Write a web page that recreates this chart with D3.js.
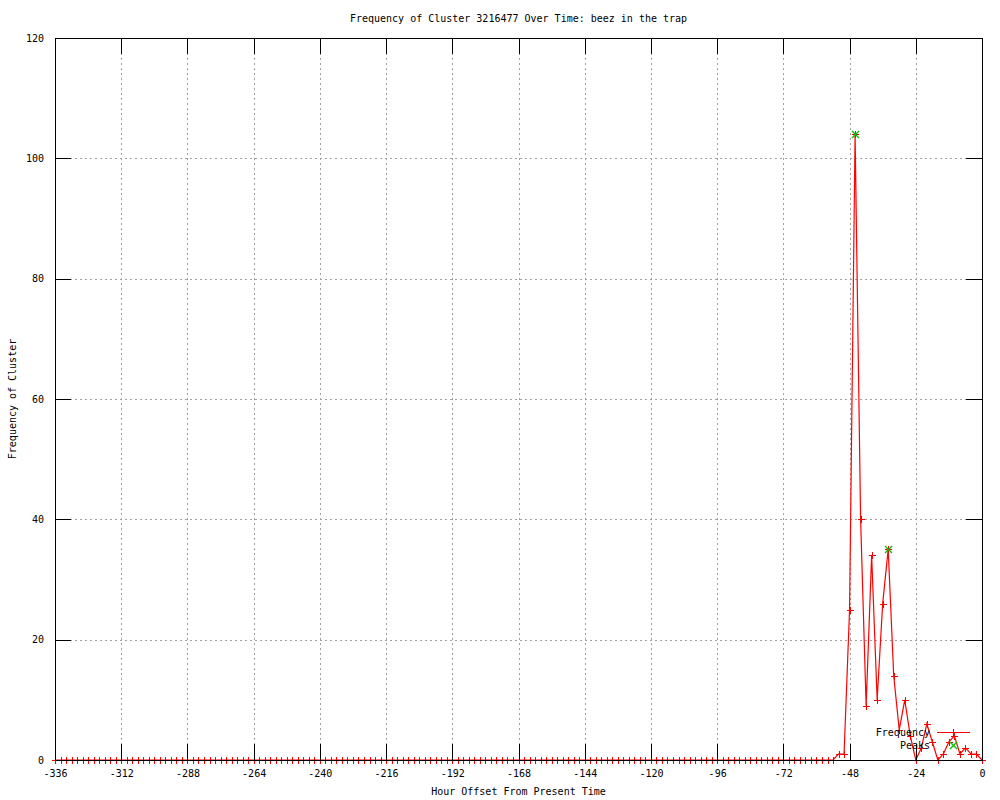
<!DOCTYPE html>
<html>
<head>
<meta charset="utf-8">
<script src="https://cdn.jsdelivr.net/npm/d3@7/dist/d3.min.js"></script>
<style>
	body { margin: 0; background: #ffffff; }
	text { font-family: 'DejaVu Sans Mono', monospace; font-size: 10px; fill: #000000; }
</style>
</head>
<body>
<div class="vis"></div>
<script>
'use strict';

// hour offsets, one sample every two hours
var hours = d3.range( -336, 1, 2 );

// frequency per sample (-336 ... 0)
var frequency = [
	0, 0, 0, 0, 0, 0, 0, 0, 0, 0, 0, 0, 0, 0, 0, 0, 0, 0, 0, 0,
	0, 0, 0, 0, 0, 0, 0, 0, 0, 0, 0, 0, 0, 0, 0, 0, 0, 0, 0, 0,
	0, 0, 0, 0, 0, 0, 0, 0, 0, 0, 0, 0, 0, 0, 0, 0, 0, 0, 0, 0,
	0, 0, 0, 0, 0, 0, 0, 0, 0, 0, 0, 0, 0, 0, 0, 0, 0, 0, 0, 0,
	0, 0, 0, 0, 0, 0, 0, 0, 0, 0, 0, 0, 0, 0, 0, 0, 0, 0, 0, 0,
	0, 0, 0, 0, 0, 0, 0, 0, 0, 0, 0, 0, 0, 0, 0, 0, 0, 0, 0, 0,
	0, 0, 0, 0, 0, 0, 0, 0, 0, 0, 0, 0, 0, 0, 0, 0, 0, 0, 0, 0,
	0, 0,
	1, 1, 25, 104, 40, 9, 34, 10, 26, 35, 14, 5, 10, 4, 0, 2, 6, 3, 0, 1, 3, 4, 1, 2, 1, 1, 0
];

// detected peaks
var peakHours = [ -46, -34 ];
var peakValues = [ 104, 35 ];

var xTicks = d3.range( -336, 1, 24 );
var yTicks = [ 0, 20, 40, 60, 80, 100, 120 ];

var titleText = 'Frequency of Cluster 3216477 Over Time: beez in the trap';
var xLabel = 'Hour Offset From Present Time';
var yLabel = 'Frequency of Cluster';
var seriesNames = [ 'Frequency', 'Peaks' ];

(function () {

	var width = 1000;
	var height = 800;

	var left = 55, right = 982, top = 38, bottom = 760;
	var tickLen = 16;

	var lineColor = '#ff0000';
	var peakColor = '#00c000';
	var gridColor = '#a0a0a0';

	var x = d3.scaleLinear().domain( [-336, 0] ).range( [left, right] );
	var y = d3.scaleLinear().domain( [0, 120] ).range( [bottom, top] );

	var data = hours.map( function(h, i) { return { h: h, v: frequency[i] }; } );
	var peaks = peakHours.map( function(h, i) { return { h: h, v: peakValues[i] }; } );

	var svg = d3.select('.vis')
		.append('svg')
			.attr('width', width)
			.attr('height', height);

	// grid
	var grid = svg.append('g')
		.attr('stroke', gridColor)
		.attr('stroke-dasharray', '2,3')
		.attr('shape-rendering', 'crispEdges');

	grid.selectAll('.gx')
		.data( xTicks.slice( 1, -1 ) )
		.enter().append('line')
			.attr('x1', function(d) { return Math.round( x(d) ) + 0.5; })
			.attr('x2', function(d) { return Math.round( x(d) ) + 0.5; })
			.attr('y1', top)
			.attr('y2', bottom);

	grid.selectAll('.gy')
		.data( yTicks.slice( 1, -1 ) )
		.enter().append('line')
			.attr('y1', function(d) { return Math.round( y(d) ) + 0.5; })
			.attr('y2', function(d) { return Math.round( y(d) ) + 0.5; })
			.attr('x1', left)
			.attr('x2', right);

	// frequency line
	var line = d3.line()
		.x( function(d) { return x(d.h); } )
		.y( function(d) { return y(d.v); } );

	svg.append('path')
		.datum( data )
		.attr('fill', 'none')
		.attr('stroke', lineColor)
		.attr('stroke-width', 1.2)
		.attr('d', line);

	// point marks
	function plus( sel, cx, cy, color ) {
		sel.append('path')
			.attr('d', 'M' + (cx - 3.5) + ',' + cy + 'H' + (cx + 3.5) + 'M' + cx + ',' + (cy - 3.5) + 'V' + (cy + 3.5))
			.attr('stroke', color)
			.attr('shape-rendering', 'crispEdges')
			.attr('fill', 'none');
	}

	function cross( sel, cx, cy, color ) {
		sel.append('path')
			.attr('d', 'M' + (cx - 3.5) + ',' + (cy - 3.5) + 'L' + (cx + 3.5) + ',' + (cy + 3.5) +
				'M' + (cx - 3.5) + ',' + (cy + 3.5) + 'L' + (cx + 3.5) + ',' + (cy - 3.5))
			.attr('stroke', color)
			.attr('stroke-width', 1.3)
			.attr('fill', 'none');
	}

	var marks = svg.append('g');
	data.forEach( function(d) {
		plus( marks, Math.round( x(d.h) ) + 0.5, Math.round( y(d.v) ) + 0.5, lineColor );
	});

	peaks.forEach( function(d) {
		cross( marks, Math.round( x(d.h) ) + 0.5, Math.round( y(d.v) ) + 0.5, peakColor );
	});

	// axes with inward ticks
	var axisG = svg.append('g').attr('shape-rendering', 'crispEdges');

	axisG.append('g')
		.attr('transform', 'translate(0,' + bottom + ')')
		.call( d3.axisBottom( x ).tickValues( xTicks ).tickSizeInner( -tickLen ).tickSizeOuter( 0 ).tickPadding( 10 )
			.tickFormat( function(d) { return d.toString(); } ) );

	axisG.append('g')
		.attr('transform', 'translate(0,' + top + ')')
		.call( d3.axisTop( x ).tickValues( xTicks ).tickSizeInner( -tickLen ).tickSizeOuter( 0 ).tickFormat( '' ) );

	axisG.append('g')
		.attr('transform', 'translate(' + left + ',0)')
		.call( d3.axisLeft( y ).tickValues( yTicks ).tickSizeInner( -tickLen ).tickSizeOuter( 0 ).tickPadding( 11 )
			.tickFormat( function(d) { return d.toString(); } ) );

	axisG.append('g')
		.attr('transform', 'translate(' + right + ',0)')
		.call( d3.axisRight( y ).tickValues( yTicks ).tickSizeInner( -tickLen ).tickSizeOuter( 0 ).tickFormat( '' ) );

	axisG.selectAll('.domain').remove();
	axisG.selectAll('.tick line').attr('stroke', '#000000');
	axisG.selectAll('text')
		.attr('font-family', null)
		.attr('font-size', null)
		.attr('fill', '#000000');

	// border
	svg.append('rect')
		.attr('x', left + 0.5)
		.attr('y', top + 0.5)
		.attr('width', right - left)
		.attr('height', bottom - top)
		.attr('fill', 'none')
		.attr('stroke', '#000000')
		.attr('shape-rendering', 'crispEdges');

	// legend
	var legend = svg.append('g');
	legend.append('text')
		.attr('x', 930)
		.attr('y', 733)
		.attr('text-anchor', 'end')
		.attr('dominant-baseline', 'middle')
		.text( seriesNames[0] );
	legend.append('line')
		.attr('x1', 937).attr('x2', 970)
		.attr('y1', 732.5).attr('y2', 732.5)
		.attr('stroke', lineColor)
		.attr('shape-rendering', 'crispEdges');
	plus( legend, 953.5, 732.5, lineColor );

	legend.append('text')
		.attr('x', 930)
		.attr('y', 746)
		.attr('text-anchor', 'end')
		.attr('dominant-baseline', 'middle')
		.text( seriesNames[1] );
	cross( legend, 953.5, 745.5, peakColor );

	// titles
	svg.append('text')
		.attr('x', (left + right) / 2)
		.attr('y', 19)
		.attr('text-anchor', 'middle')
		.attr('dominant-baseline', 'middle')
		.text( titleText );

	svg.append('text')
		.attr('x', (left + right) / 2)
		.attr('y', 792)
		.attr('text-anchor', 'middle')
		.attr('dominant-baseline', 'middle')
		.text( xLabel );

	svg.append('text')
		.attr('transform', 'translate(13,' + ((top + bottom) / 2) + ') rotate(-90)')
		.attr('text-anchor', 'middle')
		.attr('dominant-baseline', 'middle')
		.text( yLabel );

})();
</script>
</body>
</html>
